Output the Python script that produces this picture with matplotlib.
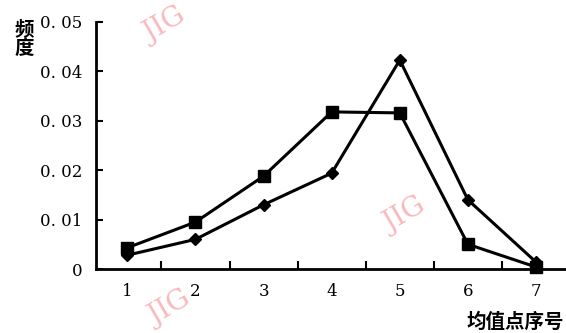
import numpy as np
import matplotlib
matplotlib.use("Agg")
from matplotlib import pyplot as plt

# mean-point index and frequency of the two series
points = [1, 2, 3, 4, 5, 6, 7]
freq_square = [0.0043, 0.0095, 0.0188, 0.0318, 0.0316, 0.0050, 0.0004]
freq_diamond = [0.0028, 0.0060, 0.0130, 0.0194, 0.0423, 0.0140, 0.0014]
yticks = [0, 0.01, 0.02, 0.03, 0.04, 0.05]
ytick_labels = ["0", "0. 01", "0. 02", "0. 03", "0. 04", "0. 05"]

cjk = ["Noto Sans CJK SC", "DejaVu Sans"]

fig = plt.figure(figsize=(5.66, 3.33), dpi=100)
ax = fig.add_axes([96 / 566, 64 / 333, 470 / 566, 247 / 333])

ax.plot(points, freq_square, color="black", lw=2.2, marker="s", ms=8.5,
        clip_on=False, zorder=3)
ax.plot(points, freq_diamond, color="black", lw=2.2, marker="D", ms=6.5,
        clip_on=False, zorder=3)

ax.set_xlim(0.54, 7.44)
ax.set_ylim(0, 0.05)

ax.spines["top"].set_visible(False)
ax.spines["right"].set_visible(False)
for s in ("left", "bottom"):
    ax.spines[s].set_linewidth(2.0)

ax.set_xticks(points)
ax.set_xticklabels([str(p) for p in points], fontfamily="DejaVu Serif", fontsize=12)
ax.set_xticks(np.arange(1.5, 7, 1.0), minor=True)
ax.tick_params(axis="x", which="major", length=0, pad=10)
ax.tick_params(axis="x", which="minor", direction="in", length=6, width=1.5)

ax.set_yticks(yticks)
ax.set_yticklabels(ytick_labels, fontfamily="DejaVu Serif", fontsize=12)
ax.tick_params(axis="y", direction="in", length=5, width=1.5, pad=10)

fig.text(24 / 566, 1 - 20 / 333, "频\n度", family=cjk, fontsize=14,
         fontweight="bold", ha="center", va="top", linespacing=1.0)
fig.text(564 / 566, 1 - 322 / 333, "均值点序号", family=cjk, fontsize=14,
         fontweight="bold", ha="right", va="center")

# watermark
for x, y in [(165, 25), (405, 215), (170, 308)]:
    fig.text(x / 566, 1 - y / 333, "JIG", fontfamily="DejaVu Serif",
             fontsize=20, color="#f7a8ad", rotation=30, ha="center",
             va="center", alpha=0.8, zorder=0)

fig.savefig("out.png", dpi=100)
